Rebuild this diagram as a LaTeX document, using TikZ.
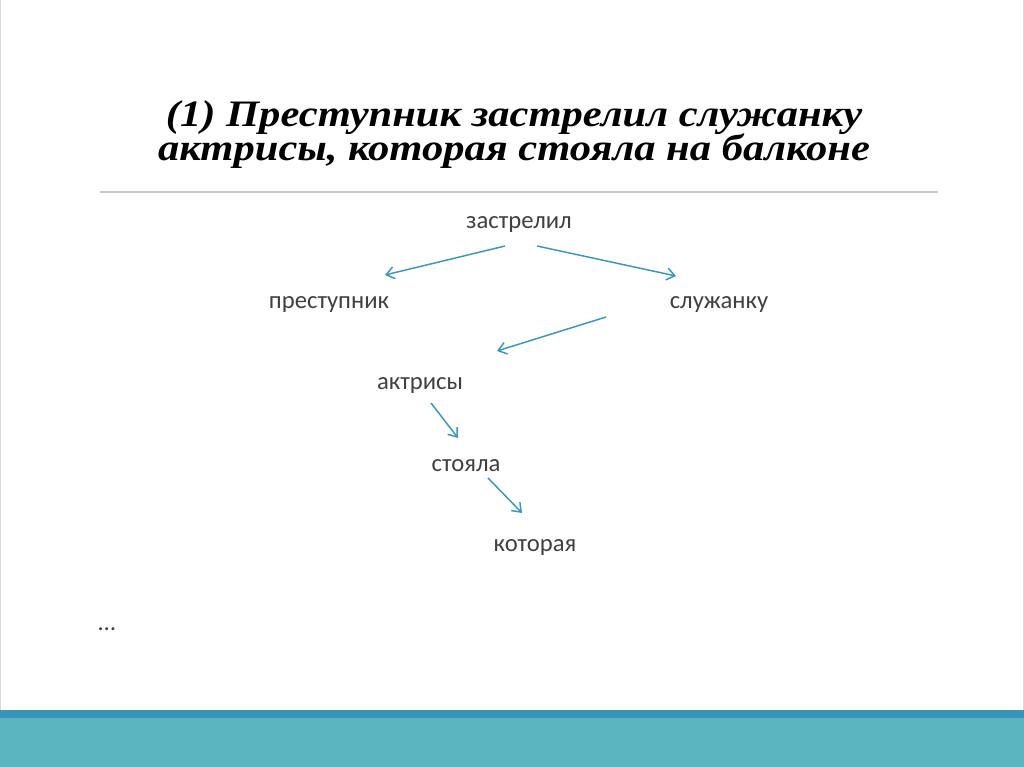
\documentclass[tikz,border=0pt]{standalone}
\usepackage{fontspec}
\setmainfont{Carlito}
\newfontfamily\titlefont[FakeStretch=1.14]{Liberation Serif}
\usetikzlibrary{arrows.meta}
\definecolor{arrowblue}{RGB}{58,150,192}
\definecolor{banddark}{RGB}{56,148,184}
\definecolor{bandteal}{RGB}{90,181,192}
\definecolor{wordgray}{RGB}{64,64,64}
\tikzset{
  word/.style={font=\fontsize{18.5pt}{22pt}\selectfont, text=wordgray, inner sep=0pt},
  link/.style={draw=arrowblue, line width=1.1pt, -{Straight Barb[length=6pt,width=9pt]}},
  titletext/.style={font=\titlefont\bfseries\itshape\fontsize{28pt}{28pt}\selectfont, inner sep=0pt, anchor=base}
}
\begin{document}
\begin{tikzpicture}[x=0.75pt,y=-0.75pt]
\useasboundingbox (0,0) rectangle (1024,767);
\fill[white] (0,0) rectangle (1024,767);
\draw[gray!30, line width=0.75pt] (0.5,0) -- (0.5,710) (1023.5,0) -- (1023.5,710);
\fill[bandteal] (0,718) rectangle (1024,767);
\fill[banddark] (0,710) rectangle (1024,718);
\node[titletext, text depth=4pt] (t1) at (514,126) {(1) Преступник застрелил служанку};
\node[titletext, text height=19pt] (t2) at (514,160) {актрисы, которая стояла на балконе};
\draw[gray!45, line width=1pt] (100,192) -- (938,192);
\node[word] (zastrelil) at (519,224) {застрелил};
\node[word] (prestupnik) at (329,304) {преступник};
\node[word] (sluzhanku) at (719,304) {служанку};
\node[word] (aktrisy) at (420,385) {актрисы};
\node[word] (stoyala) at (466,466) {стояла};
\node[word] (kotoraya) at (535,547) {которая};
\node[word] (dots) at (107,629) {…};
\coordinate (a1s) at (505,246); \coordinate (a1e) at (385,275);
\coordinate (a2s) at (537,246); \coordinate (a2e) at (676,276);
\coordinate (a3s) at (606,317); \coordinate (a3e) at (497,351);
\coordinate (a4s) at (431,403); \coordinate (a4e) at (458,438);
\coordinate (a5s) at (488,478); \coordinate (a5e) at (522,513);
\draw[link] (a1s) -- (a1e);
\draw[link] (a2s) -- (a2e);
\draw[link] (a3s) -- (a3e);
\draw[link] (a4s) -- (a4e);
\draw[link] (a5s) -- (a5e);
\end{tikzpicture}
\end{document}
